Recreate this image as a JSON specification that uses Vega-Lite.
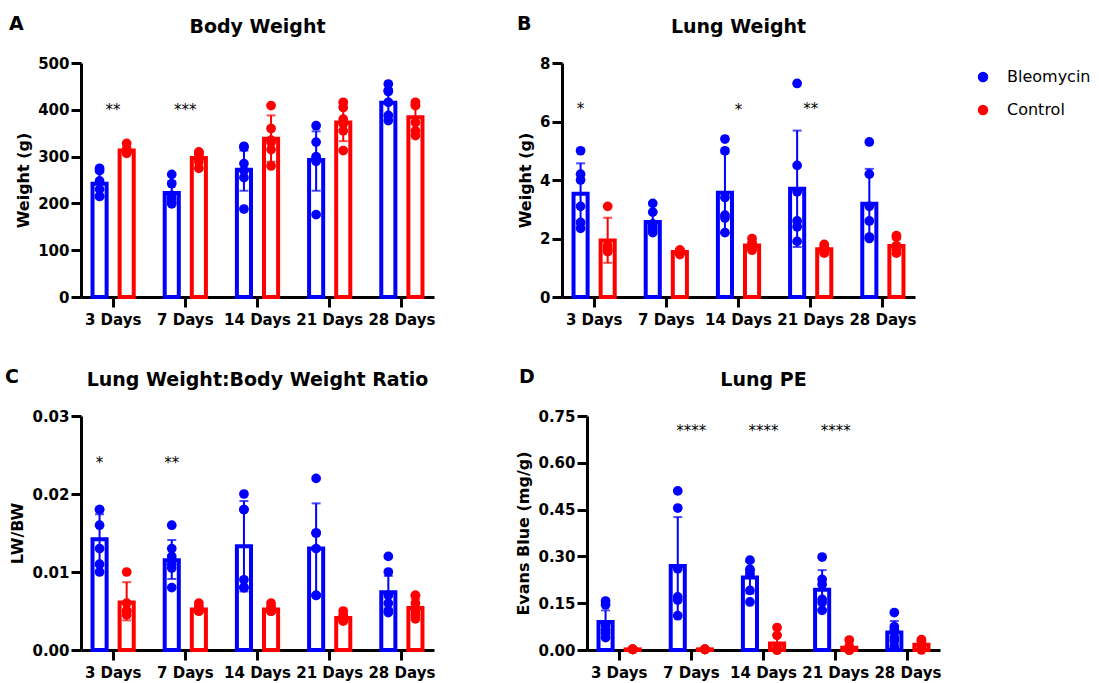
{
"$schema":"https://vega.github.io/schema/vega-lite/v6.json",
"padding":{"left":5,"top":15,"right":5,"bottom":5},
"datasets":{
"summary":[
{"p":"A","d":"3 Days","g":"Bleomycin","mean":242,"lo":216,"hi":268},
{"p":"A","d":"3 Days","g":"Control","mean":313,"lo":305,"hi":321},
{"p":"A","d":"7 Days","g":"Bleomycin","mean":222,"lo":197,"hi":247},
{"p":"A","d":"7 Days","g":"Control","mean":297,"lo":284,"hi":311},
{"p":"A","d":"14 Days","g":"Bleomycin","mean":272,"lo":227,"hi":313},
{"p":"A","d":"14 Days","g":"Control","mean":338,"lo":289,"hi":388},
{"p":"A","d":"21 Days","g":"Bleomycin","mean":293,"lo":227,"hi":354},
{"p":"A","d":"21 Days","g":"Control","mean":373,"lo":333,"hi":413},
{"p":"A","d":"28 Days","g":"Bleomycin","mean":415,"lo":386,"hi":444},
{"p":"A","d":"28 Days","g":"Control","mean":384,"lo":355,"hi":414},
{"p":"B","d":"3 Days","g":"Bleomycin","mean":3.53,"lo":2.49,"hi":4.57},
{"p":"B","d":"3 Days","g":"Control","mean":1.93,"lo":1.17,"hi":2.71},
{"p":"B","d":"7 Days","g":"Bleomycin","mean":2.56,"lo":2.2,"hi":2.92},
{"p":"B","d":"7 Days","g":"Control","mean":1.54,"lo":1.48,"hi":1.6},
{"p":"B","d":"14 Days","g":"Bleomycin","mean":3.56,"lo":2.19,"hi":4.93},
{"p":"B","d":"14 Days","g":"Control","mean":1.76,"lo":1.63,"hi":1.89},
{"p":"B","d":"21 Days","g":"Bleomycin","mean":3.7,"lo":1.71,"hi":5.69},
{"p":"B","d":"21 Days","g":"Control","mean":1.63,"lo":1.52,"hi":1.74},
{"p":"B","d":"28 Days","g":"Bleomycin","mean":3.19,"lo":2.0,"hi":4.38},
{"p":"B","d":"28 Days","g":"Control","mean":1.74,"lo":1.5,"hi":1.98},
{"p":"C","d":"3 Days","g":"Bleomycin","mean":0.0142,"lo":0.0108,"hi":0.0174},
{"p":"C","d":"3 Days","g":"Control","mean":0.0061,"lo":0.0038,"hi":0.0087},
{"p":"C","d":"7 Days","g":"Bleomycin","mean":0.0115,"lo":0.0091,"hi":0.0141},
{"p":"C","d":"7 Days","g":"Control","mean":0.0052,"lo":0.0048,"hi":0.0056},
{"p":"C","d":"14 Days","g":"Bleomycin","mean":0.0133,"lo":0.0075,"hi":0.0191},
{"p":"C","d":"14 Days","g":"Control","mean":0.0052,"lo":0.0048,"hi":0.0056},
{"p":"C","d":"21 Days","g":"Bleomycin","mean":0.013,"lo":0.0072,"hi":0.0188},
{"p":"C","d":"21 Days","g":"Control","mean":0.0041,"lo":0.0037,"hi":0.0045},
{"p":"C","d":"28 Days","g":"Bleomycin","mean":0.0074,"lo":0.0053,"hi":0.0095},
{"p":"C","d":"28 Days","g":"Control","mean":0.0054,"lo":0.0043,"hi":0.0065},
{"p":"D","d":"3 Days","g":"Bleomycin","mean":0.09,"lo":0.053,"hi":0.127},
{"p":"D","d":"3 Days","g":"Control","mean":0.002,"lo":0.0,"hi":0.004},
{"p":"D","d":"7 Days","g":"Bleomycin","mean":0.269,"lo":0.112,"hi":0.426},
{"p":"D","d":"7 Days","g":"Control","mean":0.002,"lo":0.0,"hi":0.004},
{"p":"D","d":"14 Days","g":"Bleomycin","mean":0.232,"lo":0.181,"hi":0.283},
{"p":"D","d":"14 Days","g":"Control","mean":0.021,"lo":0.0,"hi":0.05},
{"p":"D","d":"21 Days","g":"Bleomycin","mean":0.193,"lo":0.13,"hi":0.256},
{"p":"D","d":"21 Days","g":"Control","mean":0.007,"lo":0.0,"hi":0.02},
{"p":"D","d":"28 Days","g":"Bleomycin","mean":0.056,"lo":0.019,"hi":0.093},
{"p":"D","d":"28 Days","g":"Control","mean":0.017,"lo":0.004,"hi":0.03}
],
"points":[
{"p":"A","d":"3 Days","g":"Bleomycin","v":270},{"p":"A","d":"3 Days","g":"Bleomycin","v":275},{"p":"A","d":"3 Days","g":"Bleomycin","v":248},{"p":"A","d":"3 Days","g":"Bleomycin","v":230},{"p":"A","d":"3 Days","g":"Bleomycin","v":215},{"p":"A","d":"3 Days","g":"Bleomycin","v":215},
{"p":"A","d":"3 Days","g":"Control","v":328},{"p":"A","d":"3 Days","g":"Control","v":315},{"p":"A","d":"3 Days","g":"Control","v":312},{"p":"A","d":"3 Days","g":"Control","v":310},{"p":"A","d":"3 Days","g":"Control","v":308},{"p":"A","d":"3 Days","g":"Control","v":307},
{"p":"A","d":"7 Days","g":"Bleomycin","v":262},{"p":"A","d":"7 Days","g":"Bleomycin","v":242},{"p":"A","d":"7 Days","g":"Bleomycin","v":217},{"p":"A","d":"7 Days","g":"Bleomycin","v":210},{"p":"A","d":"7 Days","g":"Bleomycin","v":203},{"p":"A","d":"7 Days","g":"Bleomycin","v":199},
{"p":"A","d":"7 Days","g":"Control","v":310},{"p":"A","d":"7 Days","g":"Control","v":308},{"p":"A","d":"7 Days","g":"Control","v":305},{"p":"A","d":"7 Days","g":"Control","v":300},{"p":"A","d":"7 Days","g":"Control","v":275},{"p":"A","d":"7 Days","g":"Control","v":290},
{"p":"A","d":"14 Days","g":"Bleomycin","v":322},{"p":"A","d":"14 Days","g":"Bleomycin","v":320},{"p":"A","d":"14 Days","g":"Bleomycin","v":285},{"p":"A","d":"14 Days","g":"Bleomycin","v":270},{"p":"A","d":"14 Days","g":"Bleomycin","v":255},{"p":"A","d":"14 Days","g":"Bleomycin","v":188},
{"p":"A","d":"14 Days","g":"Control","v":409},{"p":"A","d":"14 Days","g":"Control","v":360},{"p":"A","d":"14 Days","g":"Control","v":335},{"p":"A","d":"14 Days","g":"Control","v":330},{"p":"A","d":"14 Days","g":"Control","v":315},{"p":"A","d":"14 Days","g":"Control","v":280},
{"p":"A","d":"21 Days","g":"Bleomycin","v":366},{"p":"A","d":"21 Days","g":"Bleomycin","v":331},{"p":"A","d":"21 Days","g":"Bleomycin","v":300},{"p":"A","d":"21 Days","g":"Bleomycin","v":297},{"p":"A","d":"21 Days","g":"Bleomycin","v":290},{"p":"A","d":"21 Days","g":"Bleomycin","v":176},
{"p":"A","d":"21 Days","g":"Control","v":416},{"p":"A","d":"21 Days","g":"Control","v":405},{"p":"A","d":"21 Days","g":"Control","v":380},{"p":"A","d":"21 Days","g":"Control","v":370},{"p":"A","d":"21 Days","g":"Control","v":355},{"p":"A","d":"21 Days","g":"Control","v":313},
{"p":"A","d":"28 Days","g":"Bleomycin","v":455},{"p":"A","d":"28 Days","g":"Bleomycin","v":441},{"p":"A","d":"28 Days","g":"Bleomycin","v":439},{"p":"A","d":"28 Days","g":"Bleomycin","v":416},{"p":"A","d":"28 Days","g":"Bleomycin","v":388},{"p":"A","d":"28 Days","g":"Bleomycin","v":377},
{"p":"A","d":"28 Days","g":"Control","v":416},{"p":"A","d":"28 Days","g":"Control","v":410},{"p":"A","d":"28 Days","g":"Control","v":409},{"p":"A","d":"28 Days","g":"Control","v":373},{"p":"A","d":"28 Days","g":"Control","v":345},{"p":"A","d":"28 Days","g":"Control","v":355},
{"p":"B","d":"3 Days","g":"Bleomycin","v":5.0},{"p":"B","d":"3 Days","g":"Bleomycin","v":4.2},{"p":"B","d":"3 Days","g":"Bleomycin","v":4.0},{"p":"B","d":"3 Days","g":"Bleomycin","v":3.1},{"p":"B","d":"3 Days","g":"Bleomycin","v":2.55},{"p":"B","d":"3 Days","g":"Bleomycin","v":2.35},
{"p":"B","d":"3 Days","g":"Control","v":3.1},{"p":"B","d":"3 Days","g":"Control","v":1.75},{"p":"B","d":"3 Days","g":"Control","v":1.65},{"p":"B","d":"3 Days","g":"Control","v":1.6},{"p":"B","d":"3 Days","g":"Control","v":1.55},
{"p":"B","d":"7 Days","g":"Bleomycin","v":3.2},{"p":"B","d":"7 Days","g":"Bleomycin","v":2.9},{"p":"B","d":"7 Days","g":"Bleomycin","v":2.5},{"p":"B","d":"7 Days","g":"Bleomycin","v":2.4},{"p":"B","d":"7 Days","g":"Bleomycin","v":2.3},{"p":"B","d":"7 Days","g":"Bleomycin","v":2.2},
{"p":"B","d":"7 Days","g":"Control","v":1.6},{"p":"B","d":"7 Days","g":"Control","v":1.6},{"p":"B","d":"7 Days","g":"Control","v":1.55},{"p":"B","d":"7 Days","g":"Control","v":1.5},{"p":"B","d":"7 Days","g":"Control","v":1.45},
{"p":"B","d":"14 Days","g":"Bleomycin","v":5.4},{"p":"B","d":"14 Days","g":"Bleomycin","v":5.0},{"p":"B","d":"14 Days","g":"Bleomycin","v":3.4},{"p":"B","d":"14 Days","g":"Bleomycin","v":2.8},{"p":"B","d":"14 Days","g":"Bleomycin","v":2.7},{"p":"B","d":"14 Days","g":"Bleomycin","v":2.2},
{"p":"B","d":"14 Days","g":"Control","v":2.0},{"p":"B","d":"14 Days","g":"Control","v":1.85},{"p":"B","d":"14 Days","g":"Control","v":1.75},{"p":"B","d":"14 Days","g":"Control","v":1.7},{"p":"B","d":"14 Days","g":"Control","v":1.65},{"p":"B","d":"14 Days","g":"Control","v":1.6},
{"p":"B","d":"21 Days","g":"Bleomycin","v":7.3},{"p":"B","d":"21 Days","g":"Bleomycin","v":4.5},{"p":"B","d":"21 Days","g":"Bleomycin","v":3.6},{"p":"B","d":"21 Days","g":"Bleomycin","v":2.6},{"p":"B","d":"21 Days","g":"Bleomycin","v":2.4},{"p":"B","d":"21 Days","g":"Bleomycin","v":1.9},
{"p":"B","d":"21 Days","g":"Control","v":1.8},{"p":"B","d":"21 Days","g":"Control","v":1.7},{"p":"B","d":"21 Days","g":"Control","v":1.65},{"p":"B","d":"21 Days","g":"Control","v":1.6},{"p":"B","d":"21 Days","g":"Control","v":1.55},{"p":"B","d":"21 Days","g":"Control","v":1.5},
{"p":"B","d":"28 Days","g":"Bleomycin","v":5.3},{"p":"B","d":"28 Days","g":"Bleomycin","v":4.2},{"p":"B","d":"28 Days","g":"Bleomycin","v":3.1},{"p":"B","d":"28 Days","g":"Bleomycin","v":2.6},{"p":"B","d":"28 Days","g":"Bleomycin","v":2.05},{"p":"B","d":"28 Days","g":"Bleomycin","v":2.0},
{"p":"B","d":"28 Days","g":"Control","v":2.1},{"p":"B","d":"28 Days","g":"Control","v":2.05},{"p":"B","d":"28 Days","g":"Control","v":1.75},{"p":"B","d":"28 Days","g":"Control","v":1.65},{"p":"B","d":"28 Days","g":"Control","v":1.6},{"p":"B","d":"28 Days","g":"Control","v":1.5},
{"p":"C","d":"3 Days","g":"Bleomycin","v":0.018},{"p":"C","d":"3 Days","g":"Bleomycin","v":0.018},{"p":"C","d":"3 Days","g":"Bleomycin","v":0.016},{"p":"C","d":"3 Days","g":"Bleomycin","v":0.013},{"p":"C","d":"3 Days","g":"Bleomycin","v":0.011},{"p":"C","d":"3 Days","g":"Bleomycin","v":0.01},
{"p":"C","d":"3 Days","g":"Control","v":0.01},{"p":"C","d":"3 Days","g":"Control","v":0.006},{"p":"C","d":"3 Days","g":"Control","v":0.005},{"p":"C","d":"3 Days","g":"Control","v":0.005},{"p":"C","d":"3 Days","g":"Control","v":0.0045},
{"p":"C","d":"7 Days","g":"Bleomycin","v":0.016},{"p":"C","d":"7 Days","g":"Bleomycin","v":0.013},{"p":"C","d":"7 Days","g":"Bleomycin","v":0.012},{"p":"C","d":"7 Days","g":"Bleomycin","v":0.011},{"p":"C","d":"7 Days","g":"Bleomycin","v":0.0105},{"p":"C","d":"7 Days","g":"Bleomycin","v":0.008},
{"p":"C","d":"7 Days","g":"Control","v":0.006},{"p":"C","d":"7 Days","g":"Control","v":0.0055},{"p":"C","d":"7 Days","g":"Control","v":0.005},{"p":"C","d":"7 Days","g":"Control","v":0.005},{"p":"C","d":"7 Days","g":"Control","v":0.005},{"p":"C","d":"7 Days","g":"Control","v":0.0052},
{"p":"C","d":"14 Days","g":"Bleomycin","v":0.02},{"p":"C","d":"14 Days","g":"Bleomycin","v":0.018},{"p":"C","d":"14 Days","g":"Bleomycin","v":0.018},{"p":"C","d":"14 Days","g":"Bleomycin","v":0.009},{"p":"C","d":"14 Days","g":"Bleomycin","v":0.008},{"p":"C","d":"14 Days","g":"Bleomycin","v":0.008},
{"p":"C","d":"14 Days","g":"Control","v":0.006},{"p":"C","d":"14 Days","g":"Control","v":0.0055},{"p":"C","d":"14 Days","g":"Control","v":0.005},{"p":"C","d":"14 Days","g":"Control","v":0.005},{"p":"C","d":"14 Days","g":"Control","v":0.005},{"p":"C","d":"14 Days","g":"Control","v":0.005},
{"p":"C","d":"21 Days","g":"Bleomycin","v":0.022},{"p":"C","d":"21 Days","g":"Bleomycin","v":0.015},{"p":"C","d":"21 Days","g":"Bleomycin","v":0.015},{"p":"C","d":"21 Days","g":"Bleomycin","v":0.013},{"p":"C","d":"21 Days","g":"Bleomycin","v":0.007},{"p":"C","d":"21 Days","g":"Bleomycin","v":0.007},
{"p":"C","d":"21 Days","g":"Control","v":0.005},{"p":"C","d":"21 Days","g":"Control","v":0.0045},{"p":"C","d":"21 Days","g":"Control","v":0.004},{"p":"C","d":"21 Days","g":"Control","v":0.004},{"p":"C","d":"21 Days","g":"Control","v":0.0038},{"p":"C","d":"21 Days","g":"Control","v":0.0037},
{"p":"C","d":"28 Days","g":"Bleomycin","v":0.012},{"p":"C","d":"28 Days","g":"Bleomycin","v":0.01},{"p":"C","d":"28 Days","g":"Bleomycin","v":0.007},{"p":"C","d":"28 Days","g":"Bleomycin","v":0.006},{"p":"C","d":"28 Days","g":"Bleomycin","v":0.005},{"p":"C","d":"28 Days","g":"Bleomycin","v":0.0048},
{"p":"C","d":"28 Days","g":"Control","v":0.007},{"p":"C","d":"28 Days","g":"Control","v":0.007},{"p":"C","d":"28 Days","g":"Control","v":0.006},{"p":"C","d":"28 Days","g":"Control","v":0.005},{"p":"C","d":"28 Days","g":"Control","v":0.0045},{"p":"C","d":"28 Days","g":"Control","v":0.004},
{"p":"D","d":"3 Days","g":"Bleomycin","v":0.157},{"p":"D","d":"3 Days","g":"Bleomycin","v":0.145},{"p":"D","d":"3 Days","g":"Bleomycin","v":0.08},{"p":"D","d":"3 Days","g":"Bleomycin","v":0.065},{"p":"D","d":"3 Days","g":"Bleomycin","v":0.055},{"p":"D","d":"3 Days","g":"Bleomycin","v":0.04},
{"p":"D","d":"3 Days","g":"Control","v":0.002},{"p":"D","d":"3 Days","g":"Control","v":0.002},{"p":"D","d":"3 Days","g":"Control","v":0.002},{"p":"D","d":"3 Days","g":"Control","v":0.002},{"p":"D","d":"3 Days","g":"Control","v":0.002},{"p":"D","d":"3 Days","g":"Control","v":0.002},
{"p":"D","d":"7 Days","g":"Bleomycin","v":0.51},{"p":"D","d":"7 Days","g":"Bleomycin","v":0.455},{"p":"D","d":"7 Days","g":"Bleomycin","v":0.26},{"p":"D","d":"7 Days","g":"Bleomycin","v":0.17},{"p":"D","d":"7 Days","g":"Bleomycin","v":0.16},{"p":"D","d":"7 Days","g":"Bleomycin","v":0.11},
{"p":"D","d":"7 Days","g":"Control","v":0.002},{"p":"D","d":"7 Days","g":"Control","v":0.002},{"p":"D","d":"7 Days","g":"Control","v":0.002},{"p":"D","d":"7 Days","g":"Control","v":0.002},{"p":"D","d":"7 Days","g":"Control","v":0.002},{"p":"D","d":"7 Days","g":"Control","v":0.002},
{"p":"D","d":"14 Days","g":"Bleomycin","v":0.288},{"p":"D","d":"14 Days","g":"Bleomycin","v":0.259},{"p":"D","d":"14 Days","g":"Bleomycin","v":0.253},{"p":"D","d":"14 Days","g":"Bleomycin","v":0.243},{"p":"D","d":"14 Days","g":"Bleomycin","v":0.191},{"p":"D","d":"14 Days","g":"Bleomycin","v":0.154},
{"p":"D","d":"14 Days","g":"Control","v":0.072},{"p":"D","d":"14 Days","g":"Control","v":0.047},{"p":"D","d":"14 Days","g":"Control","v":0.01},{"p":"D","d":"14 Days","g":"Control","v":0.002},{"p":"D","d":"14 Days","g":"Control","v":0.0},{"p":"D","d":"14 Days","g":"Control","v":0.0},
{"p":"D","d":"21 Days","g":"Bleomycin","v":0.298},{"p":"D","d":"21 Days","g":"Bleomycin","v":0.226},{"p":"D","d":"21 Days","g":"Bleomycin","v":0.21},{"p":"D","d":"21 Days","g":"Bleomycin","v":0.162},{"p":"D","d":"21 Days","g":"Bleomycin","v":0.152},{"p":"D","d":"21 Days","g":"Bleomycin","v":0.127},
{"p":"D","d":"21 Days","g":"Control","v":0.032},{"p":"D","d":"21 Days","g":"Control","v":0.01},{"p":"D","d":"21 Days","g":"Control","v":0.002},{"p":"D","d":"21 Days","g":"Control","v":0.0},{"p":"D","d":"21 Days","g":"Control","v":0.0},{"p":"D","d":"21 Days","g":"Control","v":0.0},
{"p":"D","d":"28 Days","g":"Bleomycin","v":0.12},{"p":"D","d":"28 Days","g":"Bleomycin","v":0.075},{"p":"D","d":"28 Days","g":"Bleomycin","v":0.065},{"p":"D","d":"28 Days","g":"Bleomycin","v":0.04},{"p":"D","d":"28 Days","g":"Bleomycin","v":0.03},{"p":"D","d":"28 Days","g":"Bleomycin","v":0.01},
{"p":"D","d":"28 Days","g":"Control","v":0.033},{"p":"D","d":"28 Days","g":"Control","v":0.03},{"p":"D","d":"28 Days","g":"Control","v":0.02},{"p":"D","d":"28 Days","g":"Control","v":0.012},{"p":"D","d":"28 Days","g":"Control","v":0.005},{"p":"D","d":"28 Days","g":"Control","v":0.0}
],
"stars":[
{"p":"A","d":"3 Days","s":"**","y":407},
{"p":"A","d":"7 Days","s":"***","y":405},
{"p":"B","d":"3 Days","s":"*","y":6.52,"over":"Bleomycin"},
{"p":"B","d":"14 Days","s":"*","y":6.5},
{"p":"B","d":"21 Days","s":"**","y":6.52},
{"p":"C","d":"3 Days","s":"*","y":0.0244,"over":"Bleomycin"},
{"p":"C","d":"7 Days","s":"**","y":0.0244,"over":"Bleomycin"},
{"p":"D","d":"7 Days","s":"****","y":0.711},
{"p":"D","d":"14 Days","s":"****","y":0.711},
{"p":"D","d":"21 Days","s":"****","y":0.711}
]
},
"spacing":41,
"resolve":{"scale":{"xOffset":"independent"},"legend":{"color":"independent"}},
"vconcat":[
{"hconcat":[
{"title":{"text":"A","anchor":"start","frame":"group","offset":0,"dy":16,"dx":-72},
 "vconcat":[{"width":353,"height":234,"title":{"text":"Body Weight"},
 "layer":[
 {"data":{"name":"summary"},"transform":[{"filter":"datum.p==='A'"}],"mark":{"type":"bar","fill":"white","strokeWidth":4},
  "encoding":{"x":{"field":"d","type":"nominal","sort":["3 Days","7 Days","14 Days","21 Days","28 Days"],"scale":{"paddingInner":0.11,"paddingOuter":0},"title":null},
   "xOffset":{"field":"g","type":"nominal","sort":["Bleomycin","Control"],"scale":{"paddingInner":0.48,"paddingOuter":0.425}},
   "y":{"field":"mean","type":"quantitative","title":"Weight (g)","scale":{"domain":[0,500],"nice":false},"axis":{"values":[0,100,200,300,400,500]}},
   "stroke":{"field":"g","type":"nominal","scale":{"domain":["Bleomycin","Control"],"range":["#0000ff","#ff0000"]},"legend":null}}},
 {"data":{"name":"summary"},"transform":[{"filter":"datum.p==='A'"}],"mark":{"type":"rule","strokeWidth":2},
  "encoding":{"x":{"field":"d","type":"nominal","sort":["3 Days","7 Days","14 Days","21 Days","28 Days"],"title":null},
   "xOffset":{"field":"g","type":"nominal","sort":["Bleomycin","Control"]},
   "y":{"field":"lo","type":"quantitative","title":"Weight (g)","scale":{"domain":[0,500],"nice":false}},"y2":{"field":"hi"},
   "stroke":{"field":"g","type":"nominal","scale":{"domain":["Bleomycin","Control"],"range":["#0000ff","#ff0000"]},"legend":null}}},
 {"data":{"name":"summary"},"transform":[{"filter":"datum.p==='A'"},{"fold":["lo","hi"],"as":["end","ev"]}],"mark":{"type":"tick","thickness":2,"size":9},
  "encoding":{"x":{"field":"d","type":"nominal","sort":["3 Days","7 Days","14 Days","21 Days","28 Days"],"title":null},
   "xOffset":{"field":"g","type":"nominal","sort":["Bleomycin","Control"]},
   "y":{"field":"ev","type":"quantitative","title":"Weight (g)","scale":{"domain":[0,500],"nice":false}},
   "fill":{"field":"g","type":"nominal","scale":{"domain":["Bleomycin","Control"],"range":["#0000ff","#ff0000"]},"legend":null}}},
 {"data":{"name":"points"},"transform":[{"filter":"datum.p==='A'"}],"mark":{"type":"point","filled":true,"size":95,"opacity":1},
  "encoding":{"x":{"field":"d","type":"nominal","sort":["3 Days","7 Days","14 Days","21 Days","28 Days"],"title":null},
   "xOffset":{"field":"g","type":"nominal","sort":["Bleomycin","Control"]},
   "y":{"field":"v","type":"quantitative","title":"Weight (g)","scale":{"domain":[0,500],"nice":false}},
   "color":{"field":"g","type":"nominal","scale":{"domain":["Bleomycin","Control"],"range":["#0000ff","#ff0000"]},"legend":null}}},
 {"data":{"name":"stars"},"transform":[{"filter":"datum.p==='A'"}],"mark":{"type":"text","fontSize":15,"baseline":"alphabetic","dy":8,"color":"black"},
  "encoding":{"x":{"field":"d","type":"nominal","sort":["3 Days","7 Days","14 Days","21 Days","28 Days"],"title":null},
   "y":{"field":"y","type":"quantitative","title":"Weight (g)","scale":{"domain":[0,500],"nice":false}},"text":{"field":"s"}}}
 ]}]},
{"title":{"text":"B","anchor":"start","frame":"group","offset":0,"dy":16,"dx":-45},
 "resolve":{"legend":{"color":"independent"}},
 "vconcat":[{"width":353,"height":234,"title":{"text":"Lung Weight"},
 "layer":[
 {"data":{"name":"summary"},"transform":[{"filter":"datum.p==='B'"}],"mark":{"type":"bar","fill":"white","strokeWidth":4},
  "encoding":{"x":{"field":"d","type":"nominal","sort":["3 Days","7 Days","14 Days","21 Days","28 Days"],"scale":{"paddingInner":0.11,"paddingOuter":0},"title":null},
   "xOffset":{"field":"g","type":"nominal","sort":["Bleomycin","Control"],"scale":{"paddingInner":0.48,"paddingOuter":0.425}},
   "y":{"field":"mean","type":"quantitative","title":"Weight (g)","scale":{"domain":[0,8],"nice":false},"axis":{"values":[0,2,4,6,8]}},
   "stroke":{"field":"g","type":"nominal","scale":{"domain":["Bleomycin","Control"],"range":["#0000ff","#ff0000"]},"legend":null}}},
 {"data":{"name":"summary"},"transform":[{"filter":"datum.p==='B'"}],"mark":{"type":"rule","strokeWidth":2},
  "encoding":{"x":{"field":"d","type":"nominal","sort":["3 Days","7 Days","14 Days","21 Days","28 Days"],"title":null},
   "xOffset":{"field":"g","type":"nominal","sort":["Bleomycin","Control"]},
   "y":{"field":"lo","type":"quantitative","title":"Weight (g)","scale":{"domain":[0,8],"nice":false}},"y2":{"field":"hi"},
   "stroke":{"field":"g","type":"nominal","scale":{"domain":["Bleomycin","Control"],"range":["#0000ff","#ff0000"]},"legend":null}}},
 {"data":{"name":"summary"},"transform":[{"filter":"datum.p==='B'"},{"fold":["lo","hi"],"as":["end","ev"]}],"mark":{"type":"tick","thickness":2,"size":9},
  "encoding":{"x":{"field":"d","type":"nominal","sort":["3 Days","7 Days","14 Days","21 Days","28 Days"],"title":null},
   "xOffset":{"field":"g","type":"nominal","sort":["Bleomycin","Control"]},
   "y":{"field":"ev","type":"quantitative","title":"Weight (g)","scale":{"domain":[0,8],"nice":false}},
   "fill":{"field":"g","type":"nominal","scale":{"domain":["Bleomycin","Control"],"range":["#0000ff","#ff0000"]},"legend":null}}},
 {"data":{"name":"points"},"transform":[{"filter":"datum.p==='B'"}],"mark":{"type":"point","filled":true,"size":95,"opacity":1},
  "encoding":{"x":{"field":"d","type":"nominal","sort":["3 Days","7 Days","14 Days","21 Days","28 Days"],"title":null},
   "xOffset":{"field":"g","type":"nominal","sort":["Bleomycin","Control"]},
   "y":{"field":"v","type":"quantitative","title":"Weight (g)","scale":{"domain":[0,8],"nice":false}},
   "color":{"field":"g","type":"nominal","scale":{"domain":["Bleomycin","Control"],"range":["#0000ff","#ff0000"]},
    "legend":{"title":null,"orient":"none","legendX":413,"legendY":6,"symbolType":"circle","symbolSize":110,"symbolStrokeWidth":0,"labelFontSize":16,"labelFont":"DejaVu Sans","labelColor":"black","labelOffset":16,"rowPadding":17}}}},
 {"data":{"name":"stars"},"transform":[{"filter":"datum.p==='B' && !datum.over"}],"mark":{"type":"text","fontSize":15,"baseline":"alphabetic","dy":8,"color":"black"},
  "encoding":{"x":{"field":"d","type":"nominal","sort":["3 Days","7 Days","14 Days","21 Days","28 Days"],"title":null},
   "y":{"field":"y","type":"quantitative","title":"Weight (g)","scale":{"domain":[0,8],"nice":false}},"text":{"field":"s"}}},
 {"data":{"name":"stars"},"transform":[{"filter":"datum.p==='B' && datum.over"}],"mark":{"type":"text","fontSize":15,"baseline":"alphabetic","dy":8,"color":"black"},
  "encoding":{"x":{"field":"d","type":"nominal","sort":["3 Days","7 Days","14 Days","21 Days","28 Days"],"title":null},
   "xOffset":{"field":"over","type":"nominal","sort":["Bleomycin","Control"]},
   "y":{"field":"y","type":"quantitative","title":"Weight (g)","scale":{"domain":[0,8],"nice":false}},"text":{"field":"s"}}}
 ]}]}
],"spacing":82,"resolve":{"scale":{"xOffset":"independent"},"legend":{"color":"independent"}}},
{"hconcat":[
{"title":{"text":"C","anchor":"start","frame":"group","offset":0,"dy":16,"dx":-76},
 "vconcat":[{"width":353,"height":234,"title":{"text":"Lung Weight:Body Weight Ratio"},
 "layer":[
 {"data":{"name":"summary"},"transform":[{"filter":"datum.p==='C'"}],"mark":{"type":"bar","fill":"white","strokeWidth":4},
  "encoding":{"x":{"field":"d","type":"nominal","sort":["3 Days","7 Days","14 Days","21 Days","28 Days"],"scale":{"paddingInner":0.11,"paddingOuter":0},"title":null},
   "xOffset":{"field":"g","type":"nominal","sort":["Bleomycin","Control"],"scale":{"paddingInner":0.48,"paddingOuter":0.425}},
   "y":{"field":"mean","type":"quantitative","title":"LW/BW","scale":{"domain":[0,0.03],"nice":false},"axis":{"values":[0,0.01,0.02,0.03],"format":".2f"}},
   "stroke":{"field":"g","type":"nominal","scale":{"domain":["Bleomycin","Control"],"range":["#0000ff","#ff0000"]},"legend":null}}},
 {"data":{"name":"summary"},"transform":[{"filter":"datum.p==='C'"}],"mark":{"type":"rule","strokeWidth":2},
  "encoding":{"x":{"field":"d","type":"nominal","sort":["3 Days","7 Days","14 Days","21 Days","28 Days"],"title":null},
   "xOffset":{"field":"g","type":"nominal","sort":["Bleomycin","Control"]},
   "y":{"field":"lo","type":"quantitative","title":"LW/BW","scale":{"domain":[0,0.03],"nice":false}},"y2":{"field":"hi"},
   "stroke":{"field":"g","type":"nominal","scale":{"domain":["Bleomycin","Control"],"range":["#0000ff","#ff0000"]},"legend":null}}},
 {"data":{"name":"summary"},"transform":[{"filter":"datum.p==='C'"},{"fold":["lo","hi"],"as":["end","ev"]}],"mark":{"type":"tick","thickness":2,"size":9},
  "encoding":{"x":{"field":"d","type":"nominal","sort":["3 Days","7 Days","14 Days","21 Days","28 Days"],"title":null},
   "xOffset":{"field":"g","type":"nominal","sort":["Bleomycin","Control"]},
   "y":{"field":"ev","type":"quantitative","title":"LW/BW","scale":{"domain":[0,0.03],"nice":false}},
   "fill":{"field":"g","type":"nominal","scale":{"domain":["Bleomycin","Control"],"range":["#0000ff","#ff0000"]},"legend":null}}},
 {"data":{"name":"points"},"transform":[{"filter":"datum.p==='C'"}],"mark":{"type":"point","filled":true,"size":95,"opacity":1},
  "encoding":{"x":{"field":"d","type":"nominal","sort":["3 Days","7 Days","14 Days","21 Days","28 Days"],"title":null},
   "xOffset":{"field":"g","type":"nominal","sort":["Bleomycin","Control"]},
   "y":{"field":"v","type":"quantitative","title":"LW/BW","scale":{"domain":[0,0.03],"nice":false}},
   "color":{"field":"g","type":"nominal","scale":{"domain":["Bleomycin","Control"],"range":["#0000ff","#ff0000"]},"legend":null}}},
 {"data":{"name":"stars"},"transform":[{"filter":"datum.p==='C' && datum.over"}],"mark":{"type":"text","fontSize":15,"baseline":"alphabetic","dy":8,"color":"black"},
  "encoding":{"x":{"field":"d","type":"nominal","sort":["3 Days","7 Days","14 Days","21 Days","28 Days"],"title":null},
   "xOffset":{"field":"over","type":"nominal","sort":["Bleomycin","Control"]},
   "y":{"field":"y","type":"quantitative","title":"LW/BW","scale":{"domain":[0,0.03],"nice":false}},"text":{"field":"s"}}}
 ]}]},
{"title":{"text":"D","anchor":"start","frame":"group","offset":0,"dy":16,"dx":-68},
 "vconcat":[{"width":353,"height":234,"title":{"text":"Lung PE"},
 "layer":[
 {"data":{"name":"summary"},"transform":[{"filter":"datum.p==='D'"}],"mark":{"type":"bar","fill":"white","strokeWidth":4},
  "encoding":{"x":{"field":"d","type":"nominal","sort":["3 Days","7 Days","14 Days","21 Days","28 Days"],"scale":{"paddingInner":0.11,"paddingOuter":0},"title":null},
   "xOffset":{"field":"g","type":"nominal","sort":["Bleomycin","Control"],"scale":{"paddingInner":0.48,"paddingOuter":0.425}},
   "y":{"field":"mean","type":"quantitative","title":"Evans Blue (mg/g)","scale":{"domain":[0,0.75],"nice":false},"axis":{"values":[0,0.15,0.3,0.45,0.6,0.75],"format":".2f"}},
   "stroke":{"field":"g","type":"nominal","scale":{"domain":["Bleomycin","Control"],"range":["#0000ff","#ff0000"]},"legend":null}}},
 {"data":{"name":"summary"},"transform":[{"filter":"datum.p==='D'"}],"mark":{"type":"rule","strokeWidth":2},
  "encoding":{"x":{"field":"d","type":"nominal","sort":["3 Days","7 Days","14 Days","21 Days","28 Days"],"title":null},
   "xOffset":{"field":"g","type":"nominal","sort":["Bleomycin","Control"]},
   "y":{"field":"lo","type":"quantitative","title":"Evans Blue (mg/g)","scale":{"domain":[0,0.75],"nice":false}},"y2":{"field":"hi"},
   "stroke":{"field":"g","type":"nominal","scale":{"domain":["Bleomycin","Control"],"range":["#0000ff","#ff0000"]},"legend":null}}},
 {"data":{"name":"summary"},"transform":[{"filter":"datum.p==='D'"},{"fold":["lo","hi"],"as":["end","ev"]}],"mark":{"type":"tick","thickness":2,"size":9},
  "encoding":{"x":{"field":"d","type":"nominal","sort":["3 Days","7 Days","14 Days","21 Days","28 Days"],"title":null},
   "xOffset":{"field":"g","type":"nominal","sort":["Bleomycin","Control"]},
   "y":{"field":"ev","type":"quantitative","title":"Evans Blue (mg/g)","scale":{"domain":[0,0.75],"nice":false}},
   "fill":{"field":"g","type":"nominal","scale":{"domain":["Bleomycin","Control"],"range":["#0000ff","#ff0000"]},"legend":null}}},
 {"data":{"name":"points"},"transform":[{"filter":"datum.p==='D'"}],"mark":{"type":"point","filled":true,"size":95,"opacity":1},
  "encoding":{"x":{"field":"d","type":"nominal","sort":["3 Days","7 Days","14 Days","21 Days","28 Days"],"title":null},
   "xOffset":{"field":"g","type":"nominal","sort":["Bleomycin","Control"]},
   "y":{"field":"v","type":"quantitative","title":"Evans Blue (mg/g)","scale":{"domain":[0,0.75],"nice":false}},
   "color":{"field":"g","type":"nominal","scale":{"domain":["Bleomycin","Control"],"range":["#0000ff","#ff0000"]},"legend":null}}},
 {"data":{"name":"stars"},"transform":[{"filter":"datum.p==='D'"}],"mark":{"type":"text","fontSize":15,"baseline":"alphabetic","dy":8,"color":"black"},
  "encoding":{"x":{"field":"d","type":"nominal","sort":["3 Days","7 Days","14 Days","21 Days","28 Days"],"title":null},
   "y":{"field":"y","type":"quantitative","title":"Evans Blue (mg/g)","scale":{"domain":[0,0.75],"nice":false}},"text":{"field":"s"}}}
 ]}]}
],"spacing":80,"resolve":{"scale":{"xOffset":"independent"},"legend":{"color":"independent"}}}
],
"config":{
 "font":"DejaVu Sans",
 "view":{"stroke":null},
 "title":{"font":"DejaVu Sans","fontSize":19,"fontWeight":"bold","color":"black","baseline":"bottom","offset":19,"anchor":"middle","frame":"group"},
 "axis":{"domainColor":"black","domainWidth":3,"tickColor":"black","tickWidth":3,"tickSize":10,"labelFont":"DejaVu Sans","labelFontWeight":"bold","labelFontSize":15,"labelColor":"black","titleFont":"DejaVu Sans","titleFontSize":16,"titleFontWeight":"bold","titleColor":"black","grid":false,"zindex":1},
 "axisX":{"labelAngle":0,"labelPadding":5,"labelOverlap":false},
 "axisY":{"labelPadding":2,"titlePadding":6},
 "legend":{"labelFont":"DejaVu Sans"}
}
}
